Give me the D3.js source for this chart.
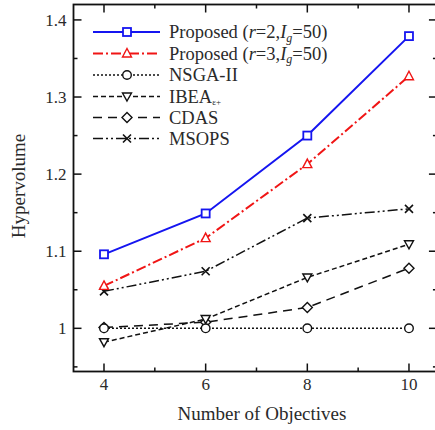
<!DOCTYPE html>
<html>
<head>
<meta charset="utf-8">
<script src="https://cdn.jsdelivr.net/npm/d3@7"></script>
<style>
  body { margin: 0; background: #fff; }
  svg text { font-family: "Liberation Serif", "DejaVu Serif", serif; fill: #2a2a2a; }
</style>
</head>
<body>
<svg id="chart" width="435" height="430"></svg>
<script>
// Number of objectives on the x axis
const objectives = [4, 6, 8, 10];

// Hypervolume per method
const proposedR2 = [1.096, 1.149, 1.250, 1.379];
const proposedR3 = [1.055, 1.117, 1.213, 1.327];
const nsga2 = [1.000, 1.000, 1.000, 1.000];
const ibea = [0.982, 1.012, 1.066, 1.109];
const cdas = [1.001, 1.008, 1.027, 1.078];
const msops = [1.048, 1.074, 1.143, 1.155];

const xTicks = [4, 6, 8, 10];
const yTicks = [1, 1.1, 1.2, 1.3, 1.4];

const series = [
  { name: 'r2', values: proposedR2, color: '#1515f0', dash: null, width: 2, marker: 'square' },
  { name: 'r3', values: proposedR3, color: '#f01515', dash: '10,3,2,3', width: 2, marker: 'triangle' },
  { name: 'NSGA-II', values: nsga2, color: '#111', dash: '2,2', width: 1.5, marker: 'circle' },
  { name: 'IBEA', values: ibea, color: '#111', dash: '5,3', width: 1.5, marker: 'triangleDown' },
  { name: 'CDAS', values: cdas, color: '#111', dash: '9,6', width: 1.5, marker: 'diamond' },
  { name: 'MSOPS', values: msops, color: '#111', dash: '10,3,2,3,2,3', width: 1.5, marker: 'cross' }
];

const svg = d3.select('#chart');
const margin = { left: 73.5, top: 4.5, bottom: 371.5 };

const x = d3.scaleLinear().domain([3.4, 10.55]).range([margin.left, margin.left + 7.15 * 50.83]);
const y = d3.scaleLinear().domain([0.944, 1.42]).range([margin.bottom, margin.top]);

// ---- frame & ticks (ticks point inward on all four sides)
const frame = svg.append('g');
const xr = x.range(), yr = y.range();

const xMinor = d3.range(4, 11, 1);
const yMinor = d3.range(0.95, 1.42, 0.05);

xMinor.forEach(v => {
  const len = xTicks.includes(v) ? 8 : 4;
  frame.append('line').attr('x1', x(v)).attr('x2', x(v))
    .attr('y1', yr[0]).attr('y2', yr[0] - len);
  frame.append('line').attr('x1', x(v)).attr('x2', x(v))
    .attr('y1', yr[1]).attr('y2', yr[1] + len);
});
yMinor.forEach(v => {
  const major = yTicks.some(t => Math.abs(t - v) < 1e-6);
  const len = major ? 8 : 4;
  frame.append('line').attr('y1', y(v)).attr('y2', y(v))
    .attr('x1', xr[0]).attr('x2', xr[0] + len);
  frame.append('line').attr('y1', y(v)).attr('y2', y(v))
    .attr('x1', xr[1]).attr('x2', xr[1] - len);
});
frame.selectAll('line').attr('stroke', '#111').attr('stroke-width', 1.5);

frame.append('rect')
  .attr('x', xr[0]).attr('y', yr[1])
  .attr('width', xr[1] - xr[0]).attr('height', yr[0] - yr[1])
  .attr('fill', 'none').attr('stroke', '#111').attr('stroke-width', 1.8);

// tick labels
svg.append('g').selectAll('text').data(xTicks).join('text')
  .attr('x', d => x(d)).attr('y', yr[0] + 18)
  .attr('text-anchor', 'middle').attr('font-size', 17)
  .text(d => d);

svg.append('g').selectAll('text').data(yTicks).join('text')
  .attr('x', xr[0] - 7).attr('y', d => y(d) + 6)
  .attr('text-anchor', 'end').attr('font-size', 17)
  .text(d => d3.format('~g')(d));

// axis titles
svg.append('text')
  .attr('x', 262).attr('y', 420)
  .attr('text-anchor', 'middle').attr('font-size', 19)
  .text('Number of Objectives');

svg.append('text')
  .attr('transform', `translate(25,${(yr[0] + yr[1]) / 2 - 2}) rotate(-90)`)
  .attr('text-anchor', 'middle').attr('font-size', 19)
  .text('Hypervolume');

// ---- markers
function drawMarker(g, type, cx, cy, color) {
  const s = 4;
  if (type === 'square') {
    g.append('rect').attr('x', cx - s).attr('y', cy - s).attr('width', 2 * s).attr('height', 2 * s)
      .attr('fill', '#fff').attr('stroke', color).attr('stroke-width', 1.8);
  } else if (type === 'circle') {
    g.append('circle').attr('cx', cx).attr('cy', cy).attr('r', 4.3)
      .attr('fill', '#fff').attr('stroke', color).attr('stroke-width', 1.4);
  } else if (type === 'triangle') {
    g.append('path').attr('d', `M${cx},${cy - 5}L${cx + 4.5},${cy + 3.5}L${cx - 4.5},${cy + 3.5}Z`)
      .attr('fill', '#fff').attr('stroke', color).attr('stroke-width', 1.4);
  } else if (type === 'triangleDown') {
    g.append('path').attr('d', `M${cx},${cy + 4.5}L${cx + 4.5},${cy - 3.5}L${cx - 4.5},${cy - 3.5}Z`)
      .attr('fill', '#fff').attr('stroke', color).attr('stroke-width', 1.4);
  } else if (type === 'diamond') {
    g.append('path').attr('d', `M${cx},${cy - 5}L${cx + 5},${cy}L${cx},${cy + 5}L${cx - 5},${cy}Z`)
      .attr('fill', '#fff').attr('stroke', color).attr('stroke-width', 1.4);
  } else if (type === 'cross') {
    g.append('path').attr('d', `M${cx - 4},${cy - 4}L${cx + 4},${cy + 4}M${cx - 4},${cy + 4}L${cx + 4},${cy - 4}`)
      .attr('stroke', color).attr('stroke-width', 1.6);
  }
}

// ---- data lines (drawn bottom-up so the proposed lines stay on top)
const line = d3.line().x((d, i) => x(objectives[i])).y(d => y(d));
const plot = svg.append('g');
series.slice().reverse().forEach(s => {
  plot.append('path').datum(s.values)
    .attr('d', line)
    .attr('fill', 'none')
    .attr('stroke', s.color)
    .attr('stroke-width', s.width)
    .attr('stroke-dasharray', s.dash);
  const mg = plot.append('g');
  s.values.forEach((v, i) => drawMarker(mg, s.marker, x(objectives[i]), y(v), s.color));
});

// ---- legend
const legend = svg.append('g');
const rowY = [32, 53.5, 75, 96.5, 117.5, 138.5];
series.forEach((s, i) => {
  const ly = rowY[i];
  legend.append('line')
    .attr('x1', 93).attr('x2', 160).attr('y1', ly).attr('y2', ly)
    .attr('stroke', s.color).attr('stroke-width', s.width)
    .attr('stroke-dasharray', s.dash);
  drawMarker(legend, s.marker, 127, ly, s.color);
  const t = legend.append('text').attr('x', 169).attr('y', ly + 6).attr('font-size', 18.5);
  if (i < 2) {
    const r = i === 0 ? '2' : '3';
    t.append('tspan').text('Proposed (');
    t.append('tspan').attr('font-style', 'italic').text('r');
    t.append('tspan').text('=' + r + ',');
    t.append('tspan').attr('font-style', 'italic').text('I');
    t.append('tspan').attr('font-style', 'italic').attr('font-size', 12).attr('dy', 3.5).text('g');
    t.append('tspan').attr('dy', -3.5).text('=50)');
  } else if (s.name === 'IBEA') {
    t.append('tspan').text('IBEA');
    t.append('tspan').attr('font-size', 9).attr('dy', 2).text('ε+');
  } else {
    t.text(s.name);
  }
});
</script>
</body>
</html>
